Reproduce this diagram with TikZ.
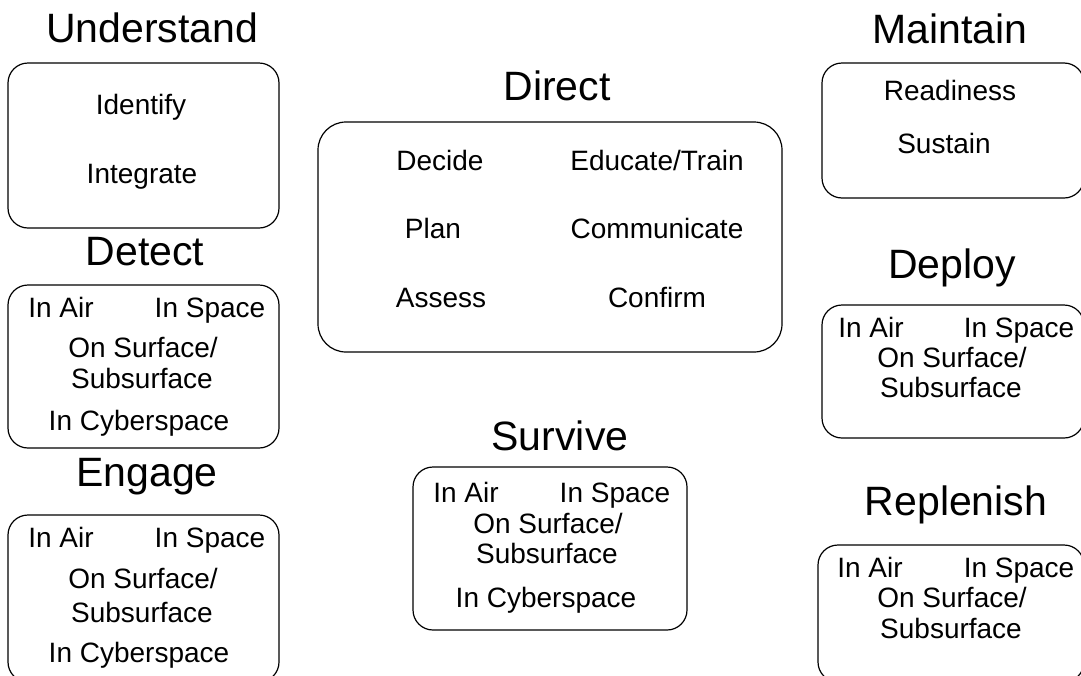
\documentclass[tikz,border=0pt]{standalone}
\usepackage{fontspec}
\setmainfont{Liberation Sans}
\tikzset{
	ttl/.style  = {font=\fontsize{20.5}{24}\selectfont, anchor=base, inner sep=0pt},
	itm/.style  = {font=\fontsize{14}{17}\selectfont, anchor=base, inner sep=0pt},
	grp/.style  = {draw, line width=0.6pt, rounded corners=10pt},
}
\begin{document}
\begin{tikzpicture}[x=0.5pt, y=-0.5pt]
	\useasboundingbox (0,0) rectangle (1081,675);
	% left column
	\node[ttl] (understand) at (152,42) {Understand};
	\draw[grp] (8,63) rectangle (279,228);
	\node[itm] (identify)  at (141,114) {Identify};
	\node[itm] (integrate) at (142,183) {Integrate};

	\node[ttl] (detect) at (145,265) {Detect};
	\draw[grp] (8,285) rectangle (279,448);
	\node[itm] (detair)   at (61,317)  {In Air};
	\node[itm] (detspace) at (210,317) {In Space};
	\node[itm] (detsurf)  at (143,357) {On Surface/};
	\node[itm] (detsub)   at (142,388) {Subsurface};
	\node[itm] (detcyber) at (139,430) {In Cyberspace};

	\node[ttl] (engage) at (147,486) {Engage};
	\draw[grp] (8,515) rectangle (279,682);
	\node[itm] (engair)   at (61,547)  {In Air};
	\node[itm] (engspace) at (210,547) {In Space};
	\node[itm] (engsurf)  at (143,588) {On Surface/};
	\node[itm] (engsub)   at (142,622) {Subsurface};
	\node[itm] (engcyber) at (139,662) {In Cyberspace};

	% middle column
	\node[ttl] (direct) at (557,100) {Direct};
	\draw[grp, rounded corners=14pt] (318,122) rectangle (782,352);
	\node[itm] (decide)      at (440,170) {Decide};
	\node[itm] (educate)     at (657,170) {Educate/Train};
	\node[itm] (plan)        at (433,238) {Plan};
	\node[itm] (communicate) at (657,238) {Communicate};
	\node[itm] (assess)      at (441,307) {Assess};
	\node[itm] (confirm)     at (657,307) {Confirm};

	\node[ttl] (survive) at (560,450) {Survive};
	\draw[grp] (413,467) rectangle (687,630);
	\node[itm] (surair)   at (466,502) {In Air};
	\node[itm] (surspace) at (615,502) {In Space};
	\node[itm] (sursurf)  at (548,533) {On Surface/};
	\node[itm] (sursub)   at (547,563) {Subsurface};
	\node[itm] (surcyber) at (546,607) {In Cyberspace};

	% right column
	\node[ttl] (maintain) at (950,43) {Maintain};
	\draw[grp] (822,63) rectangle (1084,198);
	\node[itm] (readiness) at (950,100) {Readiness};
	\node[itm] (sustain)   at (944,153) {Sustain};

	\node[ttl] (deploy) at (952,278) {Deploy};
	\draw[grp] (822,305) rectangle (1084,438);
	\node[itm] (depair)   at (871,337)  {In Air};
	\node[itm] (depspace) at (1019,337) {In Space};
	\node[itm] (depsurf)  at (952,367)  {On Surface/};
	\node[itm] (depsub)   at (951,397)  {Subsurface};

	\node[ttl] (replenish) at (956,515) {Replenish};
	\draw[grp] (818,545) rectangle (1084,682);
	\node[itm] (repair)   at (870,577)  {In Air};
	\node[itm] (repspace) at (1019,577) {In Space};
	\node[itm] (repsurf)  at (952,607)  {On Surface/};
	\node[itm] (repsub)   at (951,638)  {Subsurface};
\end{tikzpicture}
\end{document}
